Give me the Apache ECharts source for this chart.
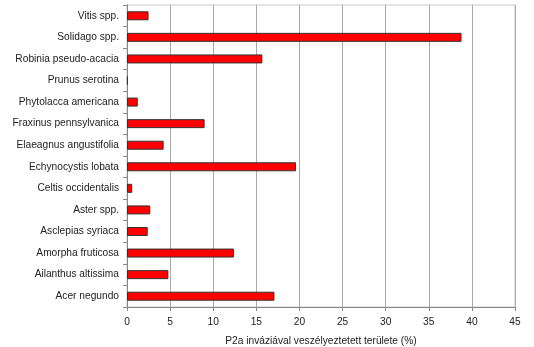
<!DOCTYPE html>
<html><head><meta charset="utf-8">
<script src="https://cdn.jsdelivr.net/npm/echarts@6/dist/echarts.min.js"></script>
<style>html,body{margin:0;padding:0;background:#fff}#c{width:534px;height:347px}</style>
</head><body><div id="c"></div>
<script>
const categories = ["Acer negundo","Ailanthus altissima","Amorpha fruticosa","Asclepias syriaca","Aster spp.","Celtis occidentalis","Echynocystis lobata","Elaeagnus angustifolia","Fraxinus pennsylvanica","Phytolacca americana","Prunus serotina","Robinia pseudo-acacia","Solidago spp.","Vitis spp."];
const values = [17.1, 4.8, 12.4, 2.4, 2.7, 0.6, 19.6, 4.25, 9.0, 1.25, 0.1, 15.7, 38.8, 2.5];
const axisTitle = "P2a inváziával veszélyeztetett területe (%)";

const chart = echarts.init(document.getElementById('c'), null, {renderer:'canvas'});
chart.setOption({
  animation:false,
  textStyle:{fontFamily:'Liberation Sans, Arial, sans-serif'},
  grid:{left:127, right:19, top:5, bottom:40, show:true, borderColor:'#c8c8c8', borderWidth:1,
        outerBoundsMode:'none', containLabel:false},
  xAxis:{type:'value', min:0, max:45, interval:5,
    name:axisTitle, nameLocation:'middle', nameGap:29,
    nameTextStyle:{fontSize:10.2, color:'#222'},
    axisLine:{show:true, lineStyle:{color:'#888'}},
    axisTick:{show:true, length:4, lineStyle:{color:'#888'}},
    axisLabel:{fontSize:10.2, color:'#222', margin:10},
    splitLine:{show:true, lineStyle:{color:'#aaa'}}
  },
  yAxis:{type:'category', data:categories,
    axisLine:{show:true, lineStyle:{color:'#888'}},
    axisTick:{show:true, length:4, lineStyle:{color:'#888'}},
    axisLabel:{fontSize:10.2, color:'#222', margin:8},
    splitLine:{show:false}
  },
  series:[{type:'bar', data:values, barWidth:9,
    itemStyle:{color:'#ff0000', borderColor:'#333', borderWidth:1}}]
});
</script></body></html>
